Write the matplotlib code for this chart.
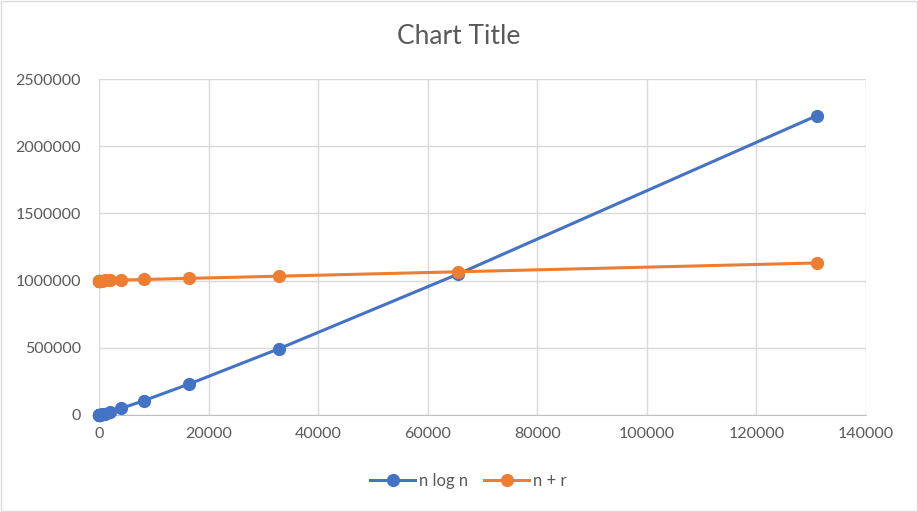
import matplotlib
matplotlib.use("Agg")
import matplotlib.pyplot as plt
from matplotlib.ticker import MultipleLocator, FuncFormatter

n_values = [2, 4, 8, 16, 32, 64, 128, 256, 512, 1024, 2048, 4096, 8192, 16384, 32768, 65536, 131072]
nlogn_values = [2, 8, 24, 64, 160, 384, 896, 2048, 4608, 10240, 22528, 49152, 106496,
                229376, 491520, 1048576, 2228224]
npr_values = [1000002, 1000004, 1000008, 1000016, 1000032, 1000064, 1000128, 1000256, 1000512,
              1001024, 1002048, 1004096, 1008192, 1016384, 1032768, 1065536, 1131072]
series_names = ["n log n", "n + r"]
title = "Chart Title"

plt.rcParams['font.family'] = ['Lato', 'DejaVu Sans']
fig = plt.figure(figsize=(9.18, 5.12), dpi=100)
ax = fig.add_axes([0.1078, 0.1895, 0.8356, 0.6562])

blue = "#4472C4"
orange = "#ED7D31"
ax.plot(n_values, nlogn_values, color=blue, lw=2.2, marker='o', ms=8.5, label=series_names[0],
        zorder=3, clip_on=False)
ax.plot(n_values, npr_values, color=orange, lw=2.2, marker='o', ms=8.5, label=series_names[1],
        zorder=3, clip_on=False)

ax.set_xlim(0, 140000)
ax.set_ylim(0, 2500000)
ax.xaxis.set_major_locator(MultipleLocator(20000))
ax.yaxis.set_major_locator(MultipleLocator(500000))
ax.xaxis.set_major_formatter(FuncFormatter(lambda v, p: f"{int(v)}"))
ax.yaxis.set_major_formatter(FuncFormatter(lambda v, p: f"{int(v)}"))
ax.grid(True, color="#D9D9D9", lw=1)
ax.set_axisbelow(True)
for s in ['top', 'right', 'left']:
    ax.spines[s].set_visible(False)
ax.spines['bottom'].set_color("#BFBFBF")
ax.tick_params(axis='both', length=0, labelsize=11.5, colors="#595959")
ax.tick_params(axis='x', pad=9)
ax.tick_params(axis='y', pad=13)

fig.text(0.5, 0.928, title, ha='center', va='center', fontsize=19, color="#595959")
leg = fig.legend(loc='center', bbox_to_anchor=(0.51, 0.06), ncol=2, frameon=False,
                 fontsize=12, handlelength=2.7, columnspacing=1.0, handletextpad=0.2)
for t in leg.get_texts():
    t.set_color("#595959")

fig.patches.append(plt.Rectangle((0.001, 0.001), 0.998, 0.998, transform=fig.transFigure,
                                 fill=False, edgecolor="#D9D9D9", lw=1))
fig.savefig("out.png", dpi=100)
